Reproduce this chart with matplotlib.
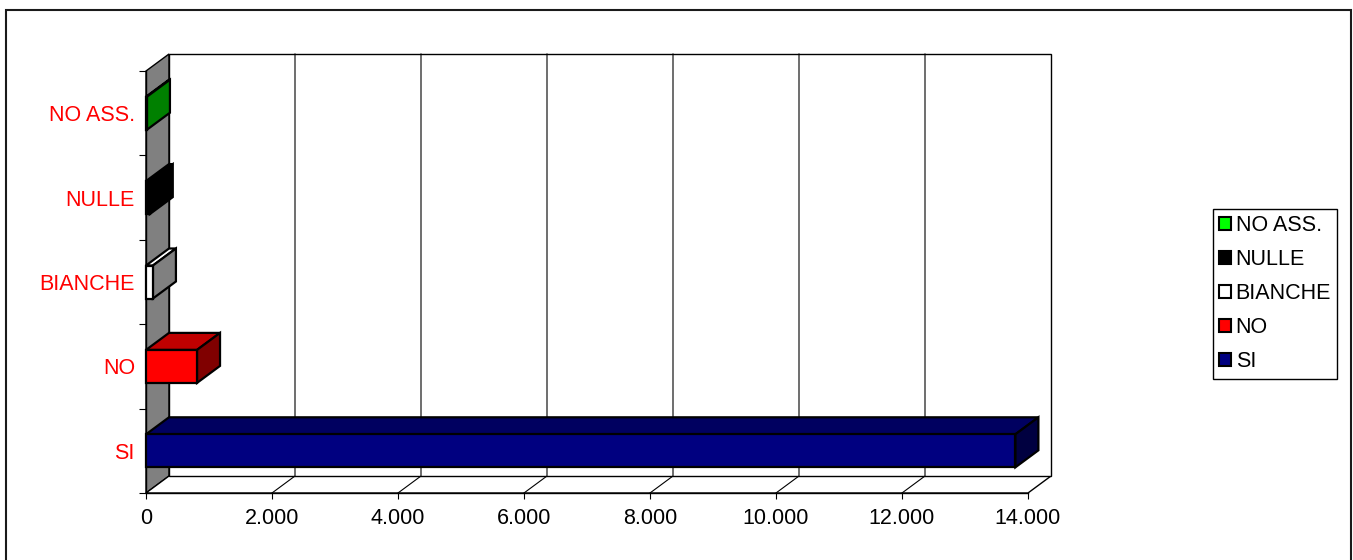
import matplotlib
matplotlib.use('Agg')
import matplotlib.pyplot as plt
from matplotlib.patches import Polygon, Rectangle, Patch

# ---- data ----
categories = ['SI', 'NO', 'BIANCHE', 'NULLE', 'NO ASS.']
values = [13800, 810, 110, 60, 15]
xticks = [0, 2000, 4000, 6000, 8000, 10000, 12000, 14000]
xtick_labels = ['0', '2.000', '4.000', '6.000', '8.000', '10.000', '12.000', '14.000']
front_colors = ['#000080', '#FF0000', '#FFFFFF', '#000000', '#00FF00']
top_colors = ['#000060', '#C00000', '#FFFFFF', '#000000', '#00C000']
side_colors = ['#000040', '#800000', '#808080', '#000000', '#008000']

plt.rcParams['font.family'] = ['Liberation Sans', 'DejaVu Sans']
FS = 15.5

W, H = 1353, 560
fig = plt.figure(figsize=(W / 100, H / 100), dpi=100)
ax = fig.add_axes([146 / W, 67 / H, 882 / W, 422 / H])
xmax = xticks[-1]
ax.set_xlim(0, xmax)
ax.set_ylim(-0.5, len(categories) - 0.5)
ax.patch.set_visible(False)
for s in ['top', 'right']:
    ax.spines[s].set_visible(False)
for s in ['left', 'bottom']:
    ax.spines[s].set_color('black')
    ax.spines[s].set_linewidth(1.0)
    ax.spines[s].set_zorder(4)

# 3D depth offsets (data units)
DX = xmax * 23 / 882
DY = len(categories) * 17 / 422
y0 = -0.5
y1 = len(categories) - 0.5

# left wall
ax.add_patch(Polygon([(0, y0), (0, y1), (DX, y1 + DY), (DX, y0 + DY)],
                     closed=True, fc='#808080', ec='black', lw=1.0,
                     clip_on=False, zorder=1))
# floor
ax.add_patch(Polygon([(0, y0), (xmax, y0), (xmax + DX, y0 + DY), (DX, y0 + DY)],
                     closed=True, fc='white', ec='black', lw=1.0,
                     clip_on=False, zorder=1))
# back wall
ax.add_patch(Rectangle((DX, y0 + DY), xmax, y1 - y0, fc='white', ec='black',
                       lw=1.0, clip_on=False, zorder=1))
# gridlines
for v in xticks[1:-1]:
    ax.plot([v, v + DX, v + DX], [y0, y0 + DY, y1 + DY], color='black',
            lw=0.8, clip_on=False, zorder=1.5)

# bars
h = 33 / 84.4 / 2
for i, v in enumerate(values):
    ax.add_patch(Polygon([(0, i + h), (v, i + h), (v + DX, i + h + DY), (DX, i + h + DY)],
                         closed=True, fc=top_colors[i], ec='black', lw=1.6,
                         clip_on=False, zorder=5))
    ax.add_patch(Polygon([(v, i - h), (v, i + h), (v + DX, i + h + DY), (v + DX, i - h + DY)],
                         closed=True, fc=side_colors[i], ec='black', lw=1.6,
                         clip_on=False, zorder=5))
    ax.add_patch(Rectangle((0, i - h), v, 2 * h, fc=front_colors[i], ec='black',
                           lw=1.6, clip_on=False, zorder=6))

# ticks
ax.set_xticks(xticks, labels=xtick_labels)
ax.tick_params(axis='x', which='major', length=4.5, width=0.8, pad=6,
               labelsize=FS, colors='black')
ax.set_yticks(range(len(categories)), labels=categories)
ax.set_yticks([k - 0.5 for k in range(len(categories) + 1)], minor=True)
ax.tick_params(axis='y', which='major', length=0, pad=8, labelsize=FS,
               labelcolor='#FF0000')
ax.tick_params(axis='y', which='minor', length=5, width=0.8, color='black')

# legend
handles = [Patch(fc=c, ec='black', lw=1.5) for c in front_colors[::-1]]
leg = fig.legend(handles, categories[::-1], loc='upper left',
                 bbox_to_anchor=(1213 / W, 1 - 209 / H), frameon=True,
                 fancybox=False, edgecolor='black', framealpha=1, fontsize=FS,
                 handlelength=0.55, handleheight=0.55, handletextpad=0.2,
                 labelspacing=0.6, borderpad=0.3, borderaxespad=0)
leg.get_frame().set_linewidth(1.0)

# outer border
fig.patches.append(Rectangle((6 / W, -0.02), (1351 - 6) / W, 1 - 10 / H + 0.02,
                             transform=fig.transFigure, fill=False,
                             ec='#1a1a1a', lw=1.5))

fig.savefig('out.png', dpi=100)
